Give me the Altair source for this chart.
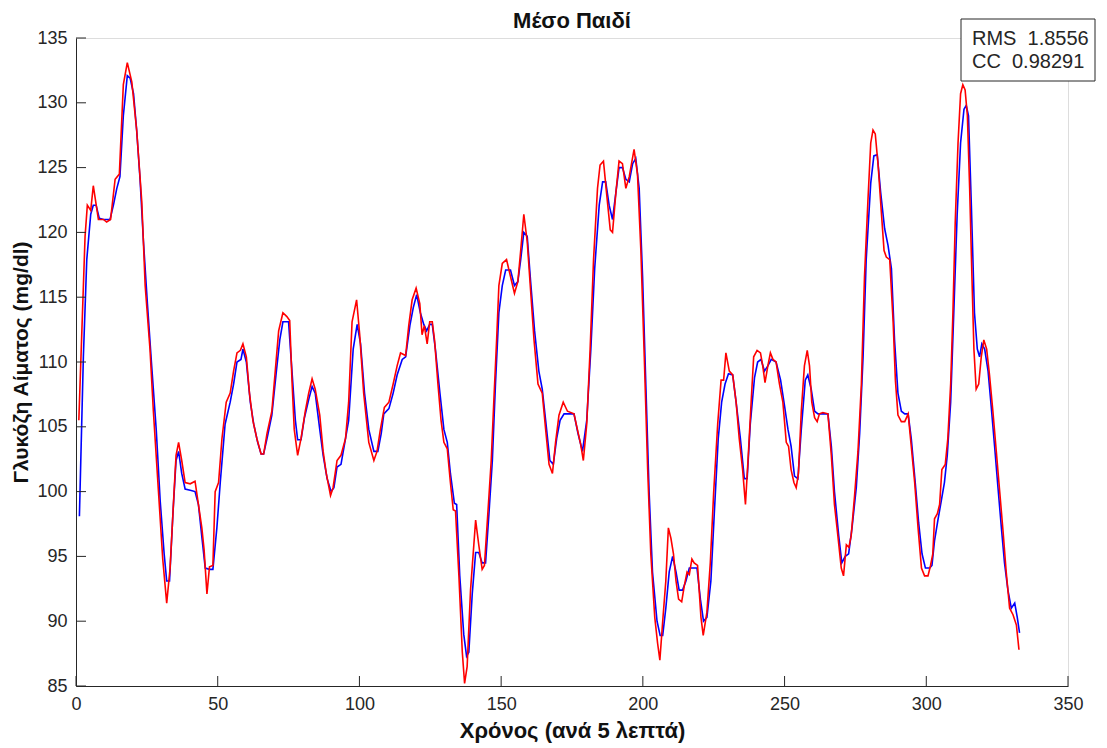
import altair as alt
import pandas as pd

# ---- data ----
blue_t = [1.2, 2.6, 3.8, 5.2, 6.1, 7.1, 8.2, 9.7, 12.0, 13.2, 14.4, 15.5, 16.7, 18.1, 19.1, 20.3, 21.4, 22.6, 23.8, 25.2,
          26.7, 28.3, 29.7, 31.1, 32.0, 33.0, 34.2, 35.3, 36.2, 37.3, 38.5, 40.3, 42.0, 43.2, 44.4, 45.6, 47.1, 48.3, 49.7, 50.9,
          52.6, 54.4, 55.6, 56.8, 58.2, 58.9, 60.1, 61.5, 62.7, 64.1, 65.3, 66.2, 67.6, 69.1, 70.7, 71.9, 73.0, 75.0, 76.2, 77.4,
          78.2, 79.4, 80.6, 82.1, 83.3, 84.4, 86.0, 87.2, 88.6, 90.0, 91.0, 92.1, 93.5, 95.1, 96.2, 97.8, 99.2, 100.4, 101.8, 103.3,
          105.1, 106.5, 107.7, 108.6, 110.4, 111.9, 113.3, 115.1, 116.3, 117.8, 119.0, 120.2, 121.5, 122.7, 123.7, 124.8, 125.7, 126.8, 128.4, 129.8,
          131.0, 132.1, 133.5, 134.3, 135.4, 136.8, 137.8, 138.6, 139.8, 141.0, 142.1, 143.3, 144.5, 145.7, 146.9, 148.0, 149.2, 150.4, 151.6, 153.3,
          154.7, 155.9, 156.9, 158.0, 159.2, 160.4, 161.8, 163.3, 164.5, 165.7, 167.2, 168.4, 169.6, 170.8, 172.2, 173.9, 175.7, 177.1, 178.7, 180.2,
          181.6, 183.0, 184.6, 185.8, 186.9, 188.1, 189.3, 190.5, 191.6, 192.8, 194.0, 195.2, 196.4, 197.5, 198.7, 199.9, 201.1, 202.2, 203.4, 205.0,
          206.1, 207.0, 208.1, 209.3, 210.5, 211.7, 212.8, 214.0, 215.2, 216.4, 217.6, 219.1, 220.3, 221.4, 222.6, 224.0, 225.2, 226.6, 227.8, 229.0,
          230.2, 231.7, 232.9, 234.4, 235.8, 236.8, 237.9, 239.4, 240.5, 241.7, 242.9, 244.1, 245.3, 247.0, 248.6, 250.0, 251.2, 252.3, 253.5, 254.7,
          255.9, 257.3, 258.2, 259.4, 260.6, 261.8, 265.3, 266.5, 267.6, 269.1, 270.2, 271.4, 272.6, 273.8, 275.3, 276.5, 277.7, 278.8, 280.4, 281.5,
          282.7, 283.9, 285.3, 286.5, 287.7, 288.8, 290.0, 291.2, 292.4, 293.6, 294.7, 296.1, 297.3, 298.5, 299.7, 301.2, 302.0, 302.9, 304.1, 305.3,
          306.4, 307.4, 308.6, 309.7, 310.9, 312.1, 313.3, 314.1, 314.9, 315.9, 317.0, 318.0, 318.8, 319.6, 320.6, 321.8, 322.9, 324.1, 325.3, 326.5,
          327.6, 328.8, 330.0, 331.2, 332.1, 332.9]
blue_v = [98.1, 110.4, 117.9, 121.4, 122.1, 122.1, 121.1, 121.0, 121.0, 122.1, 123.4, 124.3, 129.0, 132.1, 131.9, 130.7, 127.9, 124.1, 119.3, 114.5,
          109.7, 104.8, 99.3, 95.2, 93.1, 93.1, 98.3, 102.4, 103.1, 101.4, 100.2, 100.1, 100.0, 99.0, 96.5, 94.1, 94.0, 94.0, 97.2, 100.7,
          105.2, 106.9, 108.3, 110.0, 110.2, 111.0, 110.0, 106.9, 105.2, 103.8, 102.9, 102.9, 104.3, 105.9, 109.3, 111.7, 113.1, 113.1, 109.3, 105.5,
          104.0, 104.0, 105.7, 107.1, 108.1, 107.6, 104.8, 102.8, 101.0, 100.0, 100.3, 101.9, 102.1, 104.1, 105.5, 111.0, 112.9, 111.4, 107.6, 104.8,
          103.1, 103.1, 104.5, 106.0, 106.4, 107.6, 109.0, 110.2, 110.4, 112.8, 114.2, 115.2, 113.8, 112.9, 112.4, 112.9, 112.9, 111.0, 107.6, 104.8,
          103.8, 101.4, 99.1, 99.0, 93.5, 89.0, 87.3, 87.6, 92.1, 95.3, 95.3, 94.5, 94.5, 98.3, 102.4, 108.3, 113.8, 115.9, 117.1, 117.1,
          115.9, 116.2, 117.9, 120.0, 119.7, 116.2, 112.4, 109.3, 107.9, 105.5, 102.4, 102.1, 104.1, 105.5, 106.0, 106.0, 106.0, 104.5, 103.1, 105.5,
          110.8, 117.2, 122.1, 123.9, 123.9, 122.1, 121.0, 123.1, 125.0, 125.0, 124.1, 123.9, 125.3, 125.7, 123.4, 116.6, 107.9, 100.0, 93.8, 90.0,
          88.9, 88.9, 91.0, 93.8, 95.0, 93.8, 92.4, 92.4, 93.1, 94.1, 94.1, 94.1, 91.7, 90.0, 90.3, 93.1, 98.3, 104.1, 106.9, 108.3,
          109.1, 109.0, 106.9, 104.1, 101.0, 101.0, 105.2, 108.8, 110.0, 110.2, 109.3, 109.7, 110.2, 110.0, 108.6, 106.6, 104.8, 103.5, 101.2, 101.0,
          104.8, 108.6, 109.0, 107.9, 106.2, 106.0, 106.0, 103.5, 100.0, 96.6, 94.5, 95.0, 95.2, 97.2, 100.3, 104.5, 110.4, 117.9, 123.8, 125.9,
          126.0, 123.1, 120.3, 119.0, 117.2, 111.7, 107.6, 106.2, 106.0, 106.0, 104.1, 100.7, 97.6, 95.2, 94.1, 94.1, 94.3, 96.2, 97.8, 99.3,
          100.7, 102.8, 106.9, 113.8, 121.4, 126.9, 129.5, 129.8, 129.0, 122.1, 113.8, 111.0, 110.4, 111.4, 111.0, 109.3, 106.6, 103.5, 100.3, 97.2,
          94.5, 92.4, 91.0, 91.4, 90.3, 89.1]

red_t = [1.0, 3.2, 4.0, 5.2, 6.1, 7.9, 9.7, 10.8, 12.2, 13.8, 15.3, 16.7, 18.1, 19.7, 21.4, 23.2, 24.4, 26.1, 27.3, 29.1,
         30.6, 32.0, 33.2, 34.6, 35.3, 36.2, 37.3, 38.5, 40.3, 42.0, 43.2, 44.4, 45.2, 46.2, 47.1, 48.3, 49.1, 50.3, 51.5, 53.0,
         54.4, 55.6, 56.8, 58.0, 58.9, 60.1, 61.2, 62.4, 63.8, 65.3, 66.2, 67.4, 69.1, 70.3, 71.5, 73.0, 74.4, 75.4, 76.2, 77.0,
         78.2, 79.4, 80.9, 82.1, 83.3, 84.4, 86.0, 87.2, 88.3, 89.8, 90.7, 92.1, 93.5, 95.1, 96.2, 97.4, 99.0, 100.1, 101.5, 103.3,
         105.1, 106.2, 107.4, 108.8, 110.4, 111.9, 113.3, 114.5, 116.3, 117.4, 118.6, 120.0, 121.3, 122.1, 122.9, 123.9, 124.8, 125.7, 126.5, 127.7,
         128.8, 129.8, 131.0, 132.1, 133.1, 133.9, 135.1, 136.3, 137.1, 138.0, 139.2, 141.0, 142.1, 143.3, 144.1, 145.3, 146.5, 147.4, 148.4, 149.2,
         150.4, 151.9, 153.3, 154.7, 155.9, 156.9, 158.0, 159.2, 160.4, 161.6, 163.0, 164.5, 165.7, 166.9, 168.1, 169.2, 170.4, 171.9, 173.4, 175.7,
         176.9, 178.1, 179.0, 180.2, 181.4, 182.6, 184.0, 184.9, 186.1, 187.3, 188.5, 189.3, 190.5, 191.6, 192.8, 194.0, 195.2, 196.0, 196.9, 198.1,
         199.3, 200.5, 201.7, 202.8, 204.2, 205.2, 206.0, 207.0, 208.1, 209.0, 209.9, 210.8, 211.7, 212.6, 213.7, 214.6, 215.6, 216.4, 217.3, 218.1,
         219.3, 220.5, 221.3, 222.6, 223.8, 225.0, 226.4, 227.6, 228.5, 229.3, 230.5, 231.7, 232.9, 234.0, 235.2, 236.2, 237.2, 238.2, 239.1, 240.3,
         241.5, 242.3, 243.1, 244.1, 245.0, 245.9, 247.0, 248.2, 249.4, 250.6, 251.4, 252.3, 253.3, 254.1, 254.9, 255.9, 257.0, 258.0, 258.8, 259.6,
         260.6, 261.5, 262.3, 263.5, 265.3, 266.5, 267.6, 268.8, 270.0, 270.8, 271.8, 272.7, 273.5, 274.7, 275.9, 277.1, 278.2, 279.4, 280.4, 281.2,
         282.0, 283.0, 284.1, 285.1, 285.9, 287.1, 288.3, 289.1, 290.0, 291.2, 292.4, 293.6, 294.7, 295.9, 297.1, 298.3, 299.4, 300.6, 301.5, 302.3,
         302.9, 303.9, 304.7, 305.5, 306.7, 307.6, 308.6, 309.4, 310.2, 311.2, 312.1, 312.9, 313.7, 314.5, 315.3, 316.1, 316.8, 317.6, 318.5, 319.4,
         320.3, 321.3, 322.3, 323.5, 324.7, 325.9, 327.1, 328.2, 329.4, 330.6, 331.8, 332.7]
red_v = [105.5, 119.7, 122.1, 121.7, 123.6, 121.0, 121.0, 120.8, 121.0, 124.1, 124.5, 131.4, 133.1, 131.6, 127.9, 122.4, 115.9, 111.0, 106.2, 100.0,
         94.8, 91.4, 94.1, 100.0, 102.8, 103.8, 102.4, 100.7, 100.6, 100.8, 99.0, 97.2, 95.5, 92.1, 94.2, 94.3, 100.0, 100.7, 104.1, 106.9,
         107.6, 109.3, 110.7, 110.9, 111.4, 110.4, 107.6, 105.5, 104.1, 102.9, 102.9, 104.5, 106.2, 109.3, 112.4, 113.8, 113.5, 113.2, 108.6, 104.8,
         102.8, 104.1, 106.2, 107.6, 108.7, 107.9, 105.9, 103.1, 101.4, 99.7, 100.3, 102.4, 102.8, 104.1, 106.9, 113.1, 114.8, 112.1, 107.6, 103.8,
         102.4, 103.1, 104.8, 106.5, 106.9, 108.3, 109.7, 110.7, 110.5, 112.8, 114.8, 115.7, 114.5, 112.1, 112.8, 111.4, 113.1, 113.1, 111.7, 108.3,
         105.5, 103.8, 103.3, 100.7, 98.6, 98.5, 93.5, 87.6, 85.2, 86.5, 92.4, 97.8, 95.9, 94.0, 94.3, 98.3, 102.4, 106.9, 111.7, 115.9,
         117.6, 117.9, 116.6, 115.3, 116.2, 118.6, 121.4, 119.3, 115.5, 111.7, 108.3, 107.6, 104.8, 102.1, 101.4, 103.8, 105.9, 106.9, 106.2, 106.0,
         104.8, 103.6, 102.4, 105.2, 111.0, 117.9, 123.4, 125.2, 125.5, 122.8, 120.2, 120.0, 123.1, 125.5, 125.3, 123.4, 124.3, 125.3, 126.4, 124.5,
         118.6, 110.4, 101.7, 95.2, 90.3, 88.3, 87.0, 90.0, 93.1, 97.2, 96.4, 95.2, 93.1, 91.7, 91.5, 92.7, 93.8, 93.6, 94.8, 94.5,
         94.3, 90.3, 88.9, 90.7, 94.5, 100.0, 105.2, 108.6, 108.6, 110.7, 109.3, 109.0, 106.9, 104.1, 101.7, 99.0, 102.8, 106.9, 110.4, 110.9,
         110.7, 109.7, 108.4, 109.7, 110.7, 110.2, 110.0, 108.3, 106.9, 103.8, 103.5, 101.7, 100.7, 100.3, 101.4, 106.2, 109.7, 110.9, 109.7, 106.9,
         105.7, 105.4, 106.0, 106.1, 106.0, 102.8, 99.0, 96.6, 94.1, 93.5, 95.9, 95.7, 96.6, 99.7, 103.1, 108.3, 116.6, 122.4, 126.9, 127.9,
         127.6, 125.2, 121.7, 118.6, 118.1, 117.9, 113.1, 108.6, 105.9, 105.4, 105.4, 106.0, 103.5, 100.7, 97.2, 94.1, 93.5, 93.5, 94.3, 95.2,
         97.9, 98.3, 99.0, 101.7, 102.1, 104.1, 108.3, 113.8, 120.7, 126.9, 130.7, 131.4, 131.0, 129.0, 123.4, 116.6, 111.0, 107.9, 108.3, 110.4,
         111.7, 111.0, 109.0, 106.2, 103.1, 100.0, 96.9, 93.8, 91.0, 90.5, 89.7, 87.8]

x_ticks = [0, 50, 100, 150, 200, 250, 300, 350]
y_ticks = [85, 90, 95, 100, 105, 110, 115, 120, 125, 130, 135]
stats_text = ["RMS\u00a0\u00a01.8556", "CC\u00a0\u00a00.98291"]

TITLE = "Μέσο Παιδί"
X_TITLE = "Χρόνος (ανά 5 λεπτά)"
Y_TITLE = "Γλυκόζη Αίματος (mg/dl)"

FONT = "Liberation Sans"
AX = "#262626"
W, H = 992, 648

blue_df = pd.DataFrame({"t": blue_t, "v": blue_v})
red_df = pd.DataFrame({"t": red_t, "v": red_v})
xt_df = pd.DataFrame({"t": x_ticks})
yt_df = pd.DataFrame({"v": y_ticks})

xs = alt.Scale(domain=[0, 350], nice=False, zero=False)
ys = alt.Scale(domain=[85, 135], nice=False, zero=False)

x_axis = alt.Axis(values=x_ticks, title=X_TITLE, ticks=False, grid=False, labelPadding=9,
                  titlePadding=7, domainColor=AX, labelColor=AX, titleColor="#111111",
                  labelFontSize=18, titleFontSize=22, labelFont=FONT, titleFont=FONT,
                  titleFontWeight="bold", labelFlush=False)
y_axis = alt.Axis(values=y_ticks, title=Y_TITLE, ticks=False, grid=False, labelPadding=9,
                  titlePadding=5, domainColor=AX, labelColor=AX, titleColor="#111111",
                  labelFontSize=18, titleFontSize=21, labelFont=FONT, titleFont=FONT,
                  titleFontWeight="bold", labelFlush=False)

blue = alt.Chart(blue_df).mark_line(color="#0000ff", strokeWidth=1.6).encode(
    x=alt.X("t:Q", scale=xs, axis=x_axis),
    y=alt.Y("v:Q", scale=ys, axis=y_axis),
)
red = alt.Chart(red_df).mark_line(color="#ff0000", strokeWidth=1.6).encode(
    x=alt.X("t:Q", scale=xs),
    y=alt.Y("v:Q", scale=ys),
)

xticks = alt.Chart(xt_df).mark_rule(color=AX, strokeWidth=1).encode(
    x=alt.X("t:Q", scale=xs), y=alt.value(H), y2=alt.value(H - 10)
)
yticks = alt.Chart(yt_df).mark_rule(color=AX, strokeWidth=1).encode(
    y=alt.Y("v:Q", scale=ys), x=alt.value(0), x2=alt.value(10)
)

box = alt.Chart(pd.DataFrame({"k": [0]})).mark_rect(
    fill="white", stroke="#262626", strokeWidth=1
).encode(x=alt.value(885), x2=alt.value(1019), y=alt.value(-19), y2=alt.value(43))

stats_df = pd.DataFrame({"s": stats_text})
txt1 = alt.Chart(stats_df.iloc[[0]]).mark_text(
    align="left", baseline="middle", font=FONT, fontSize=20, color="#262626"
).encode(text="s:N", x=alt.value(896), y=alt.value(1))
txt2 = alt.Chart(stats_df.iloc[[1]]).mark_text(
    align="left", baseline="middle", font=FONT, fontSize=20, color="#262626"
).encode(text="s:N", x=alt.value(896), y=alt.value(24))

title_mark = alt.Chart(pd.DataFrame({"s": [TITLE]})).mark_text(
    align="center", baseline="middle", font=FONT, fontSize=22, fontWeight="bold", color="#111111"
).encode(text="s:N", x=alt.value(W / 2), y=alt.value(-17))

chart = alt.layer(blue, red, xticks, yticks, box, txt1, txt2, title_mark).properties(
    width=W, height=H,
    padding={"left": 68, "top": 30, "right": 30, "bottom": 58},
    autosize=alt.AutoSizeParams(type="none"),
).configure_view(stroke=None).configure(background="white")

chart.save("out.html", embed_options={"renderer": "svg", "actions": False})
